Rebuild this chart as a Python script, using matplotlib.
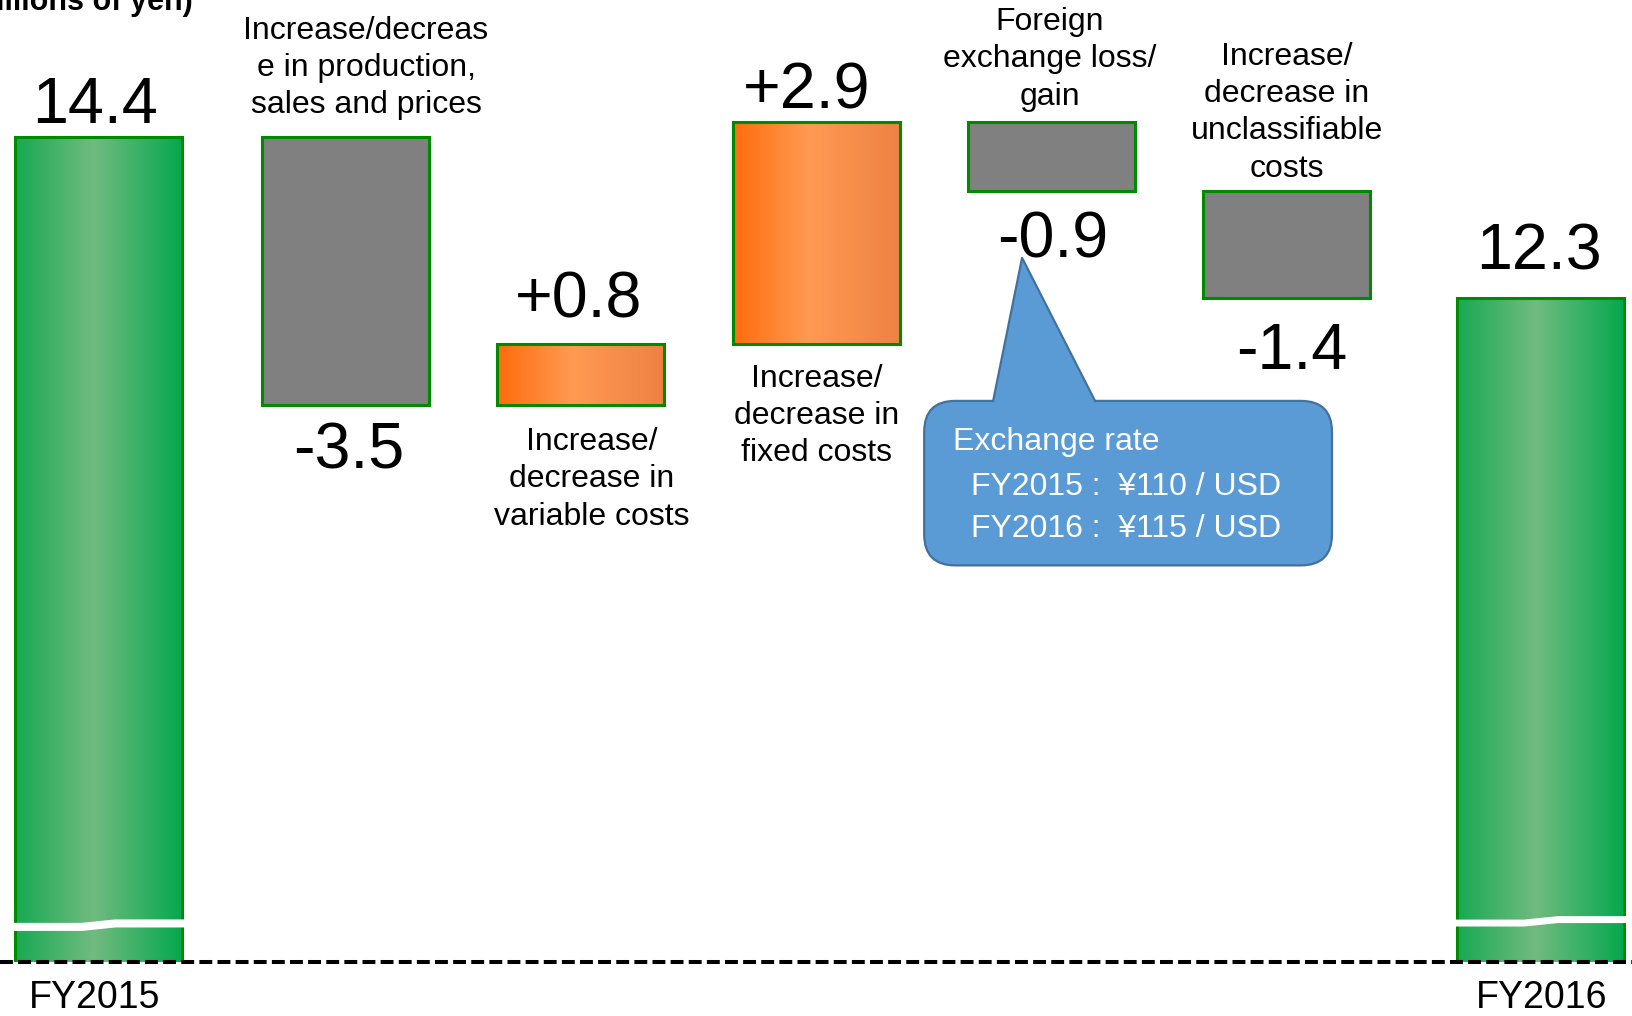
import numpy as np
import matplotlib.pyplot as plt
from matplotlib.colors import LinearSegmentedColormap
from matplotlib.patches import FancyBboxPatch, Polygon

plt.rcParams['font.family'] = ['Liberation Sans', 'DejaVu Sans']

# 数据 (billions of yen)
years = ['FY2015', 'FY2016']
start_value = 14.4
end_value = 12.3
factors = [
    'Increase/decreas\ne in production,\nsales and prices',
    'Increase/\ndecrease in\nvariable costs',
    'Increase/\ndecrease in\nfixed costs',
    'Foreign\nexchange loss/\ngain',
    'Increase/\ndecrease in\nunclassifiable\ncosts',
]
changes = [-3.5, 0.8, 2.9, -0.9, -1.4]
fx_note = ['Exchange rate', 'FY2015 :  ¥110 / USD', 'FY2016 :  ¥115 / USD']

# layout
xpos = [0, 1.05, 2.05, 3.05, 4.05, 5.05, 6.13]
bar_w = 0.71
edge_green = '#008a00'
label_dx = [-3.5, 3.5, -2.5, -10, 1, 4.5, -2]      # pixels
label_dy = [14, -64, 26, 13, -67, -71, 28]         # pixels, baseline
# (x, baseline of last line)
factor_xy = [(1.137, 14.71), (2.097, 9.33), (3.053, 10.16),
             (4.044, 14.82), (5.051, 13.88)]
ybase = 3.616

green = LinearSegmentedColormap.from_list(
    'g', [(0, '#17a953'), (0.47, '#71bb7f'), (1, '#04a84e')])
orange = LinearSegmentedColormap.from_list(
    'o', [(0, '#ff6c0c'), (0.45, '#ff9a52'), (1, '#ee8144')])

fig = plt.figure(figsize=(16.32, 10.16), dpi=100)
ax = fig.add_axes([0, 54 / 1016, 1, 962 / 1016])


def grad_bar(x, bottom, top, cmap):
    grad = np.linspace(0, 1, 256).reshape(1, -1)
    ax.imshow(grad, cmap=cmap, aspect='auto', interpolation='bicubic',
              extent=(x - bar_w / 2, x + bar_w / 2, bottom, top), zorder=2)
    ax.bar(x, top - bottom, bottom=bottom, width=bar_w, facecolor='none',
           edgecolor=edge_green, linewidth=2.2, zorder=3)


# 瀑布图
values = [start_value] + changes + [end_value]
anchors = []
grad_bar(xpos[0], 0, start_value, green)
anchors.append(start_value)
running = start_value
for i, c in enumerate(changes):
    lo, hi = min(running, running + c), max(running, running + c)
    if c > 0:
        grad_bar(xpos[i + 1], lo, hi, orange)
        anchors.append(hi)
    else:
        ax.bar(xpos[i + 1], hi - lo, bottom=lo, width=bar_w, color='#808080',
               edgecolor=edge_green, linewidth=2.2, zorder=3)
        anchors.append(lo)
    running += c
grad_bar(xpos[-1], 0, end_value, green)
anchors.append(end_value)

# break marks on the total bars
for x, yb, lw in [(xpos[0], 4.10, 5.8), (xpos[-1], 4.15, 5.0)]:
    bx = np.array([-0.52, -0.1, 0.1, 0.52]) * bar_w + x
    by = np.array([-0.025, -0.025, 0.02, 0.02]) + yb
    ax.plot(bx, by, color='white', lw=lw, solid_capstyle='butt', zorder=5)

# value labels
for i, v in enumerate(values):
    txt = f'{v:.1f}' if i in (0, len(values) - 1) else f'{v:+.1f}'
    ax.annotate(txt, (xpos[i], anchors[i]), xytext=(label_dx[i], label_dy[i]),
                textcoords='offset pixels', ha='center', va='baseline',
                fontsize=46.5, zorder=6)

# factor labels
for (x, y), t in zip(factor_xy, factors):
    ax.text(x, y, t, ha='center', va='baseline', fontsize=23,
            linespacing=1.32, zorder=6)

# year labels
for x, t in zip([xpos[0] - 0.015, xpos[-1] + 0.005], years):
    ax.text(x, 3.01, t, ha='center', va='baseline', fontsize=27,
            clip_on=False)

ax.text(0.4016, 16.06, '(Billions of yen)', ha='right', va='baseline',
        fontsize=22, fontweight='bold')

# exchange rate callout
blue, blue_edge = '#5b9bd5', '#41719c'
box = FancyBboxPatch((3.509, 8.80), 5.242 - 3.509, 10.95 - 8.80,
                     boxstyle='round,pad=0,rounding_size=0.132',
                     mutation_aspect=3.08, facecolor=blue,
                     edgecolor=blue_edge, linewidth=1.6, zorder=6)
ax.add_patch(box)
tri = Polygon([(3.802, 10.93), (3.925, 12.82), (4.235, 10.93)],
              closed=True, facecolor=blue, edgecolor='none', zorder=7)
ax.add_patch(tri)
ax.plot([3.802, 3.925, 4.235], [10.95, 12.82, 10.95], color=blue_edge,
        lw=1.6, zorder=7)
for (x, y), t in zip([(3.632, 10.31), (3.708, 9.72), (3.708, 9.17)], fx_note):
    ax.text(x, y, t, color='white', fontsize=23, va='baseline', zorder=8)

# dashed baseline
ax.axhline(ybase, color='black', lw=2.9, ls=(0, (3.2, 1.3)), clip_on=False,
           zorder=6)

ax.set_xlim(-0.4186, 6.517)
ax.set_ylim(ybase, 16.19)
ax.axis('off')

fig.savefig('out.png', dpi=100)
plt.close()
